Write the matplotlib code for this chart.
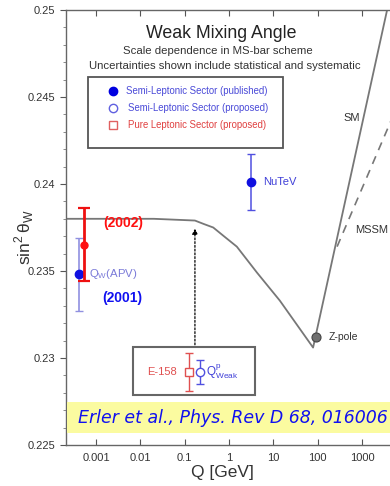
import matplotlib.pyplot as plt
from matplotlib.patches import Rectangle
from matplotlib.ticker import FixedLocator, MultipleLocator, FormatStrFormatter

plt.rcParams['font.family'] = ['Liberation Sans', 'DejaVu Sans']

# running sin^2 theta_W (SM)
sm_q = [2e-4, 0.02, 0.17, 0.27, 0.44, 0.81, 1.5, 4.3, 14, 79, 3700]
sm_s2w = [0.2380, 0.2380, 0.2379, 0.2377, 0.2375, 0.23695, 0.2364, 0.2349, 0.2333, 0.2306, 0.2500]
# MSSM branch
mssm_q = [275, 8000]
mssm_s2w = [0.2364, 0.2451]

# measurements
apv_q, apv_s2w, apv_err = 4.1e-4, 0.2348, 0.0021
apv02_q, apv02_s2w, apv02_err = 5.4e-4, 0.2365, 0.0021
nutev_q, nutev_s2w, nutev_err = 3.1, 0.2401, 0.0016
zpole_q, zpole_s2w = 91.2, 0.2312
e158_q, e158_s2w, e158_err = 0.125, 0.2292, 0.0011
qweak_q, qweak_s2w, qweak_err = 0.22, 0.2292, 0.0007
arrow_q, arrow_from, arrow_to = 0.17, 0.2306, 0.2376

xticks = [0.001, 0.01, 0.1, 1, 10, 100, 1000]
xticklabels = ['0.001', '0.01', '0.1', '1', '10', '100', '1000']

fig = plt.figure(figsize=(3.9, 4.86), dpi=100)
# axes runs past the right edge of the figure (cropped like the original)
ax = fig.add_axes([66/390, 41/486, 354/390, 435/486])
ax.set_xscale('log')
ax.set_xlim(10**-3.68, 10**(-3.68 + 354/44.3))
ax.set_ylim(0.225, 0.25)
fx = 334/354  # fraction of the axes visible inside the figure

gray = '#777777'
ax.plot(sm_q, sm_s2w, color=gray, lw=1.3, zorder=2)
ax.plot(mssm_q, mssm_s2w, color=gray, lw=1.2, ls=(0, (5, 4)), zorder=2)

# Z-pole
ax.plot(zpole_q, zpole_s2w, 'o', ms=6.5, mfc='#707070', mec='#444444', mew=0.8, zorder=4)
ax.text(zpole_q*1.9, zpole_s2w, 'Z-pole', fontsize=7.5, color='#333333', va='center')

# APV points
ax.errorbar(apv_q, apv_s2w, yerr=apv_err, fmt='o', color='#1010e0', ms=6,
            ecolor='#9090e0', elinewidth=1.2, capsize=3, zorder=5)
ax.errorbar(apv02_q, apv02_s2w, yerr=apv02_err, fmt='o', color='#ff1010', ms=5,
            ecolor='#ee1010', elinewidth=2, capsize=4, capthick=1.6, zorder=6)
ax.text(6.8e-4, apv_s2w, r'Q$_{\mathregular{W}}$(APV)', fontsize=8.2, color='#7a7ad8', va='center')
ax.text(1.45e-3, 0.23776, '(2002)', fontsize=10, color='#ff1010', fontweight='bold', va='center')
ax.text(1.38e-3, 0.23345, '(2001)', fontsize=10, color='#1010f0', fontweight='bold', va='center')

# NuTeV
ax.errorbar(nutev_q, nutev_s2w, yerr=nutev_err, fmt='o', color='#1010e0', ms=6,
            ecolor='#5050e0', elinewidth=1.1, capsize=3, zorder=5)
ax.text(nutev_q*1.9, nutev_s2w, 'NuTeV', fontsize=8, color='#4040d8', va='center')

ax.text(10**2.58, 0.2438, 'SM', fontsize=8, color='#333333', va='center')
ax.text(10**2.85, 0.23737, 'MSSM', fontsize=8, color='#333333', va='center')

# dotted arrow
ax.annotate('', xy=(arrow_q, arrow_to), xytext=(arrow_q, arrow_from),
            arrowprops=dict(arrowstyle='-|>', ls=(0, (1.5, 1.5)), color='black',
                            lw=0.9, mutation_scale=8), zorder=3)

# E-158 / Qweak inset
ax.add_patch(Rectangle((0.2006*fx, 0.115), 0.365*fx, 0.110, transform=ax.transAxes,
                       facecolor='white', edgecolor='#666666', lw=1.5, zorder=6))
ax.errorbar(e158_q, e158_s2w, yerr=e158_err, fmt='s', mfc='white', mec='#e05050', ms=6,
            ecolor='#e05050', elinewidth=1.0, capsize=3, zorder=7)
ax.errorbar(qweak_q, qweak_s2w, yerr=qweak_err, fmt='o', mfc='white', mec='#5050e0', ms=6,
            ecolor='#5050e0', elinewidth=1.0, capsize=3, zorder=7)
ax.text(0.0145, e158_s2w, 'E-158', fontsize=8, color='#e05050', va='center', zorder=8)
ax.text(0.31, e158_s2w, r'$\mathregular{Q^p_{Weak}}$', fontsize=8.5, color='#4040d8',
        va='center', zorder=8)

# legend box
ax.add_patch(Rectangle((0.066*fx, 0.683), 0.584*fx, 0.163, transform=ax.transAxes,
                       facecolor='white', edgecolor='#555555', lw=1.3, zorder=6))
leg_y = [0.814, 0.775, 0.735]
ax.plot(0.141*fx, leg_y[0], 'o', ms=6, color='#0000e0', transform=ax.transAxes, zorder=7)
ax.plot(0.141*fx, leg_y[1], 'o', ms=6, mfc='white', mec='#6060e0', transform=ax.transAxes, zorder=7)
ax.plot(0.141*fx, leg_y[2], 's', ms=6, mfc='white', mec='#e06060', transform=ax.transAxes, zorder=7)
ax.text(0.180*fx, leg_y[0], 'Semi-Leptonic Sector (published)', fontsize=6.9, color='#4a4ad8',
        transform=ax.transAxes, va='center', zorder=7)
ax.text(0.186*fx, leg_y[1], 'Semi-Leptonic Sector (proposed)', fontsize=6.9, color='#4a4ad8',
        transform=ax.transAxes, va='center', zorder=7)
ax.text(0.186*fx, leg_y[2], 'Pure Leptonic Sector (proposed)', fontsize=6.9, color='#e04040',
        transform=ax.transAxes, va='center', zorder=7)

# titles
ax.text(0.464*fx, 0.947, 'Weak Mixing Angle', fontsize=12.8, color='#222222', ha='center',
        va='center', transform=ax.transAxes)
ax.text(0.455*fx, 0.906, 'Scale dependence in MS-bar scheme', fontsize=8.2, color='#333333',
        ha='center', va='center', transform=ax.transAxes)
ax.text(0.474*fx, 0.871, 'Uncertainties shown include statistical and systematic', fontsize=8.2,
        color='#333333', ha='center', va='center', transform=ax.transAxes)

# citation
ax.add_patch(Rectangle((0.003, 0.0276), 1.0, 0.0713, transform=ax.transAxes,
                       facecolor='#fbfba0', edgecolor='none', zorder=6))
ax.text(0.035*fx, 0.063, 'Erler et al., Phys. Rev D 68, 016006', fontsize=12.5, color='#1010f0',
        style='italic', family='DejaVu Sans', va='center', transform=ax.transAxes, zorder=7)

# axes styling
ax.xaxis.set_major_locator(FixedLocator(xticks))
ax.set_xticklabels(xticklabels)
ax.xaxis.set_minor_locator(FixedLocator([]))
ax.yaxis.set_major_locator(MultipleLocator(0.005))
ax.yaxis.set_minor_locator(MultipleLocator(0.001))
ax.yaxis.set_major_formatter(FormatStrFormatter('%g'))
ax.tick_params(axis='x', direction='in', top=True, length=4, width=0.8, colors='#555555',
               labelcolor='#333333', labelsize=8, pad=6)
ax.tick_params(axis='y', which='major', direction='out', length=4, width=0.8,
               colors='#555555', labelcolor='#333333', labelsize=8)
ax.tick_params(axis='y', which='minor', direction='out', length=2.5, width=0.6, colors='#777777')
for s in ax.spines.values():
    s.set_color('#666666')
    s.set_linewidth(1.0)

ax.set_xlabel('Q [GeV]', fontsize=12.5, color='#333333')
ax.xaxis.set_label_coords(156/354, -0.045)
ax.set_ylabel(r'sin$^{\mathregular{2}}\,\mathregular{\theta}_{\mathregular{W}}$', fontsize=12.5,
              color='#333333', va='center')
ax.yaxis.set_label_coords(-42/354, 0.478)

fig.savefig('out.png', dpi=100)
